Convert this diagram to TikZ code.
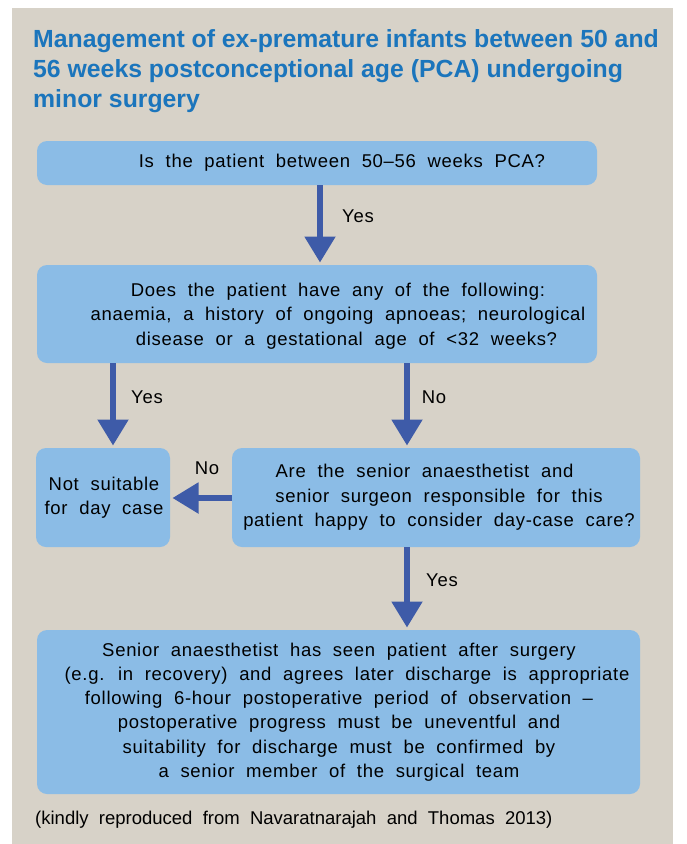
\documentclass[tikz,border=0pt]{standalone}
\usepackage{fontspec}
\setmainfont{Liberation Sans}
\newfontfamily\boxfont[LetterSpace=3.8,WordSpace=2.0]{Liberation Sans}
\newfontfamily\notefont[WordSpace=2.0]{Liberation Sans}
\usetikzlibrary{arrows.meta}
\definecolor{panel}{HTML}{D7D2C8}
\definecolor{boxblue}{HTML}{8BBCE6}
\definecolor{arrowblue}{HTML}{3E5BA8}
\definecolor{titleblue}{HTML}{1B75BC}
\begin{document}
\begin{tikzpicture}[x=1pt,y=-1pt,
  box/.style={fill=boxblue, rounded corners=10pt, inner sep=0pt, outer sep=0pt},
  txt/.style={font=\boxfont\fontsize{18.5}{24.3}\selectfont, align=center, inner sep=0pt, text=black},
  lbl/.style={font=\boxfont\fontsize{18.5}{24.3}\selectfont, inner sep=0pt, text=black},
  arr/.style={draw=arrowblue, line width=5.3pt, -{Triangle[width=30pt,length=26pt]}, shorten >=2.5pt},
  ttl/.style={font=\bfseries\fontsize{24.8}{30}\selectfont, align=left, inner sep=0pt, text=titleblue},
  note/.style={font=\notefont\fontsize{18.5}{22}\selectfont, inner sep=0pt, text=black}
]
\useasboundingbox (0,0) rectangle (686,844);
\fill[white] (0,0) rectangle (686,844);
\fill[panel] (12,8) rectangle (673,844);

\node[ttl, anchor=north west] (title) at (33,29.5) {Management of ex-premature infants between 50 and\\56 weeks postconceptional age (PCA) undergoing\\minor surgery};

% boxes
\node[box, minimum width=560pt, minimum height=44pt] (b1) at (317,163) {};
\node[box, minimum width=560pt, minimum height=98pt] (b2) at (317,314) {};
\node[box, minimum width=134pt, minimum height=99pt] (b3) at (103,497.5) {};
\node[box, minimum width=408pt, minimum height=99pt] (b4) at (436,497.5) {};
\node[box, minimum width=603pt, minimum height=164pt] (b5) at (338.5,712) {};

% texts
\node[txt] (t1) at (342,163) {Is the patient between 50\textendash 56 weeks PCA?};
\node[txt] (t2) at (338,316) {Does the patient have any of the following:\\anaemia, a history of ongoing apnoeas; neurological\\\hspace*{17pt}disease or a gestational age of <32 weeks?};
\node[txt] (t3) at (104,497.5) {Not suitable\\for day case};
\node[txt] (t4) at (439,497.5) {Are the senior anaesthetist and\hspace*{29pt}\\senior surgeon responsible for this\hspace*{28pt}\\patient happy to consider day-case care?};
\node[txt] (t5) at (339,712) {Senior anaesthetist has seen patient after surgery\\\hspace*{16pt}(e.g. in recovery) and agrees later discharge is appropriate\\following 6-hour postoperative period of observation \textendash\\postoperative progress must be uneventful and\\suitability for discharge must be confirmed by\\a senior member of the surgical team};

% arrow guide coordinates
\coordinate (xa) at (320,0);
\coordinate (xb) at (113,0);
\coordinate (xc) at (407,0);
\coordinate (yd) at (0,498);

\draw[arr] (b1.south -| xa) -- (b2.north -| xa);
\draw[arr] (b2.south -| xb) -- (b3.north -| xb);
\draw[arr] (b2.south -| xc) -- (b4.north -| xc);
\draw[arr] (b4.west |- yd) -- (b3.east |- yd);
\draw[arr] (b4.south -| xc) -- (b5.north -| xc);

% labels
\node[lbl] (l1) at (358,216) {Yes};
\node[lbl] (l2) at (147,397) {Yes};
\node[lbl] (l3) at (434,397) {No};
\node[lbl] (l4) at (207,468) {No};
\node[lbl] (l5) at (442,580) {Yes};

\node[note, anchor=base west] (fn) at (35,824) {(kindly reproduced from Navaratnarajah and Thomas 2013)};
\end{tikzpicture}
\end{document}
